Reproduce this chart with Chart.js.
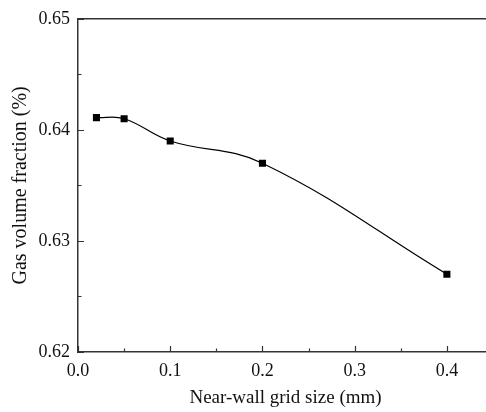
<!DOCTYPE html>
<html>
<head>
<meta charset="utf-8">
<script src="https://cdn.jsdelivr.net/npm/chart.js@4/dist/chart.umd.min.js"></script>
<style>
  html, body { margin: 0; padding: 0; background: #fff; overflow: hidden; }
  #wrap { width: 486px; height: 412px; overflow: hidden; }
</style>
</head>
<body>
<div id="wrap"><canvas id="chart" width="498" height="412"></canvas></div>
<script>
// grid size (mm) vs gas volume fraction
const gridSize = [0.02, 0.05, 0.1, 0.2, 0.4];
const gasFraction = [0.6411, 0.6410, 0.6390, 0.6370, 0.6270];

const xTicks = [0.0, 0.1, 0.2, 0.3, 0.4];
const xMinor = [0.05, 0.15, 0.25, 0.35, 0.45];
const yTicks = [0.62, 0.63, 0.64, 0.65];
const yMinor = [0.625, 0.635, 0.645];

const font = 'Liberation Serif, Times New Roman, serif';
const axisColor = '#333';

// ticks drawn inward, like Origin
const innerTicks = {
    id: 'innerTicks',
    afterDraw(chart) {
        const ctx = chart.ctx;
        const a = chart.chartArea;
        const xs = chart.scales.x, ys = chart.scales.y;
        ctx.save();
        ctx.strokeStyle = axisColor;
        ctx.lineWidth = 1.2;
        ctx.beginPath();
        xTicks.forEach(v => { const px = Math.round(xs.getPixelForValue(v)) + 0.5; ctx.moveTo(px, a.bottom); ctx.lineTo(px, a.bottom - 6); });
        xMinor.forEach(v => { const px = Math.round(xs.getPixelForValue(v)) + 0.5; ctx.moveTo(px, a.bottom); ctx.lineTo(px, a.bottom - 3.5); });
        yTicks.forEach(v => { const py = Math.round(ys.getPixelForValue(v)) + 0.5; ctx.moveTo(a.left, py); ctx.lineTo(a.left + 6, py); });
        yMinor.forEach(v => { const py = Math.round(ys.getPixelForValue(v)) + 0.5; ctx.moveTo(a.left, py); ctx.lineTo(a.left + 3.5, py); });
        ctx.stroke();
        // top frame line
        ctx.lineWidth = 1.5;
        ctx.beginPath();
        ctx.moveTo(a.left, a.top);
        ctx.lineTo(a.right, a.top);
        ctx.stroke();
        ctx.restore();
    }
};

new Chart(document.getElementById('chart'), {
    type: 'scatter',
    data: {
        datasets: [{
            data: gridSize.map((x, i) => ({ x: x, y: gasFraction[i] })),
            showLine: true,
            tension: 0.4,
            borderColor: '#000',
            borderWidth: 1.2,
            pointStyle: 'rect',
            pointRadius: 5,
            pointBackgroundColor: '#000',
            pointBorderColor: '#000',
            pointBorderWidth: 0
        }]
    },
    options: {
        responsive: false,
        animation: false,
        layout: { padding: { top: 17, right: 0, left: 0, bottom: 0 } },
        plugins: { legend: { display: false }, tooltip: { enabled: false } },
        scales: {
            x: {
                type: 'linear',
                min: 0,
                max: 0.45,
                afterBuildTicks: s => { s.ticks = xTicks.map(v => ({ value: v })); },
                afterFit: s => { s.height = 60; },
                grid: { display: false, drawTicks: false },
                border: { display: true, color: axisColor, width: 1.5 },
                ticks: {
                    padding: 8,
                    color: '#111',
                    font: { family: font, size: 18 },
                    maxRotation: 0,
                    callback: v => v.toFixed(1)
                },
                title: {
                    display: true,
                    text: 'Near-wall grid size (mm)',
                    color: '#111',
                    font: { family: font, size: 19 },
                    padding: { top: 0, bottom: 3 }
                }
            },
            y: {
                min: 0.62,
                max: 0.65,
                afterBuildTicks: s => { s.ticks = yTicks.map(v => ({ value: v })); },
                afterFit: s => { s.width = 78; },
                grid: { display: false, drawTicks: false },
                border: { display: true, color: axisColor, width: 1.5 },
                ticks: {
                    padding: 8,
                    color: '#111',
                    font: { family: font, size: 18 },
                    callback: v => v.toFixed(2)
                },
                title: {
                    display: true,
                    text: 'Gas volume fraction (%)',
                    color: '#111',
                    font: { family: font, size: 20 },
                    padding: { top: 9, bottom: 0 }
                }
            }
        }
    },
    plugins: [innerTicks]
});
</script>
</body>
</html>
